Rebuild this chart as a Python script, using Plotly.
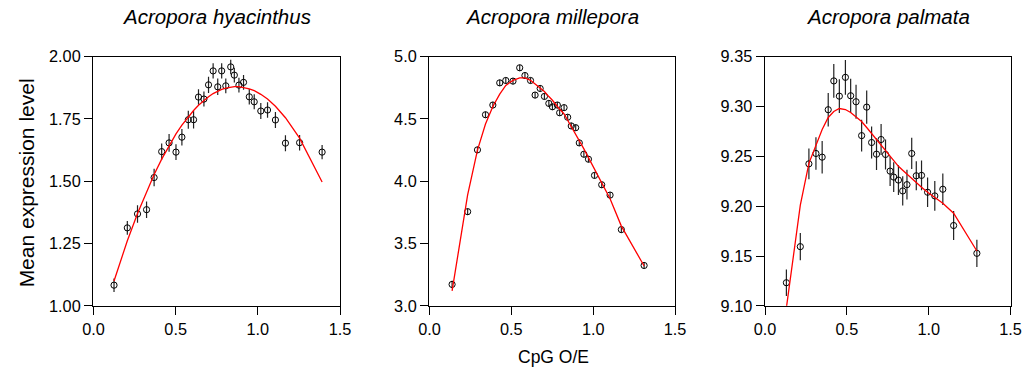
import plotly.graph_objects as go

# ---------------- data ----------------
titles = ["Acropora hyacinthus", "Acropora millepora", "Acropora palmata"]

hy_x = [0.125, 0.206, 0.268, 0.323, 0.369, 0.415, 0.460, 0.502, 0.538, 0.577,
        0.609, 0.639, 0.672, 0.700, 0.728, 0.756, 0.780, 0.805, 0.835, 0.857,
        0.885, 0.913, 0.948, 0.978, 1.018, 1.059, 1.107, 1.168, 1.254, 1.391]
hy_y = [1.083, 1.313, 1.369, 1.386, 1.515, 1.619, 1.654, 1.617, 1.677, 1.747,
        1.747, 1.838, 1.830, 1.887, 1.943, 1.879, 1.943, 1.883, 1.959, 1.926,
        1.886, 1.897, 1.839, 1.819, 1.782, 1.786, 1.746, 1.653, 1.655, 1.617]
hy_err = [0.027, 0.028, 0.035, 0.033, 0.035, 0.033, 0.036, 0.032, 0.033, 0.036,
          0.035, 0.031, 0.030, 0.033, 0.031, 0.033, 0.031, 0.030, 0.029, 0.030,
          0.030, 0.030, 0.031, 0.030, 0.032, 0.031, 0.032, 0.032, 0.031, 0.029]
hy_fit = [1.100, 1.261, 1.371, 1.460, 1.527, 1.589, 1.644, 1.690, 1.725, 1.759,
          1.784, 1.805, 1.825, 1.839, 1.852, 1.862, 1.869, 1.874, 1.878, 1.880,
          1.880, 1.877, 1.871, 1.864, 1.849, 1.830, 1.801, 1.755, 1.673, 1.497]

mi_x = [0.138, 0.233, 0.293, 0.342, 0.387, 0.429, 0.466, 0.510, 0.551, 0.583,
        0.617, 0.645, 0.676, 0.702, 0.729, 0.751, 0.781, 0.795, 0.822, 0.844,
        0.866, 0.893, 0.915, 0.943, 0.971, 1.008, 1.052, 1.103, 1.172, 1.311]
mi_y = [3.172, 3.756, 4.252, 4.534, 4.612, 4.790, 4.809, 4.804, 4.911, 4.849,
        4.809, 4.692, 4.745, 4.681, 4.625, 4.598, 4.612, 4.550, 4.591, 4.514,
        4.444, 4.430, 4.308, 4.217, 4.177, 4.047, 3.972, 3.889, 3.612, 3.324]
mi_err = [0.030, 0.026, 0.025, 0.025, 0.025, 0.025, 0.025, 0.025, 0.025, 0.025,
          0.025, 0.025, 0.025, 0.025, 0.025, 0.025, 0.025, 0.025, 0.025, 0.025,
          0.025, 0.025, 0.025, 0.025, 0.025, 0.025, 0.025, 0.025, 0.025, 0.025]
mi_fit = [3.12, 3.89, 4.25, 4.46, 4.60, 4.70, 4.77, 4.81, 4.83, 4.83,
          4.81, 4.78, 4.75, 4.72, 4.68, 4.65, 4.60, 4.58, 4.54, 4.49,
          4.44, 4.38, 4.32, 4.26, 4.19, 4.10, 3.99, 3.86, 3.64, 3.32]

pa_x = [0.1305, 0.2155, 0.268, 0.311, 0.349, 0.386, 0.420, 0.454, 0.491, 0.523,
        0.556, 0.590, 0.621, 0.651, 0.681, 0.709, 0.736, 0.764, 0.786, 0.815,
        0.841, 0.867, 0.896, 0.924, 0.956, 0.993, 1.037, 1.086, 1.152, 1.294]
pa_y = [9.1232, 9.1594, 9.2425, 9.2529, 9.2492, 9.2968, 9.3257, 9.3104, 9.3293, 9.3108,
        9.3048, 9.2708, 9.2994, 9.2639, 9.2522, 9.2669, 9.2519, 9.2352, 9.2292, 9.2262,
        9.2153, 9.2216, 9.2529, 9.2305, 9.2309, 9.2140, 9.2103, 9.2170, 9.1806, 9.1527]
pa_err = [0.0133, 0.0137, 0.0155, 0.0163, 0.0163, 0.0168, 0.0170, 0.0170, 0.0175, 0.0170,
          0.0170, 0.0160, 0.0166, 0.0160, 0.0160, 0.0155, 0.0150, 0.0150, 0.0150, 0.0150,
          0.0147, 0.0150, 0.0157, 0.0145, 0.0150, 0.0147, 0.0150, 0.0157, 0.0145, 0.0137]
pa_fit = [9.098, 9.201, 9.243, 9.261, 9.277, 9.289, 9.295, 9.298, 9.297, 9.294,
          9.290, 9.285, 9.279, 9.273, 9.267, 9.261, 9.256, 9.250, 9.245, 9.240,
          9.236, 9.232, 9.228, 9.224, 9.219, 9.214, 9.209, 9.203, 9.193, 9.155]

x_ticks = [0.0, 0.5, 1.0, 1.5]
y_ranges = [[1.0, 2.0], [3.0, 5.0], [9.10, 9.35]]
y_ticks = [[1.00, 1.25, 1.50, 1.75, 2.00],
           [3.0, 3.5, 4.0, 4.5, 5.0],
           [9.10, 9.15, 9.20, 9.25, 9.30, 9.35]]
y_formats = [".2f", ".1f", ".2f"]

# ---------------- figure ----------------
W, H = 1029, 370          # reference frame for the paper fractions below
PAGE_W, PAGE_H = 1045, 386  # size of the page area that ends up in the picture
FONT = "Liberation Sans, Arial, Helvetica, sans-serif"
x_dom_px = [(91, 339), (429, 676), (766.5, 1013.5)]
y_dom = [(H - 306.5) / H, (H - 56) / H]

series = [(hy_x, hy_y, hy_err, hy_fit), (mi_x, mi_y, mi_err, mi_fit), (pa_x, pa_y, pa_err, pa_fit)]

fig = go.Figure()
for i, (xs, ys, es, fs) in enumerate(series):
    sfx = "" if i == 0 else str(i + 1)
    fig.add_trace(go.Scatter(
        x=xs, y=ys, mode="markers",
        marker=dict(symbol="circle-open", size=6.2, color="black", line=dict(width=1, color="black")),
        error_y=dict(type="data", array=es, visible=True, color="#222222", thickness=1.2, width=0),
        xaxis="x" + sfx, yaxis="y" + sfx, showlegend=False, cliponaxis=False))
    fig.add_trace(go.Scatter(
        x=xs, y=fs, mode="lines", line=dict(color="red", width=1.3),
        xaxis="x" + sfx, yaxis="y" + sfx, showlegend=False))

layout = dict(
    autosize=True, margin=dict(l=0, r=0, t=0, b=0),
    paper_bgcolor="white", plot_bgcolor="white",
    font=dict(family=FONT, color="black", size=15),
)
axis_common = dict(showline=True, linecolor="black", linewidth=1, mirror=True,
                   ticks="outside", ticklen=8.5, tickwidth=1, tickcolor="black",
                   showgrid=False, zeroline=False, tickfont=dict(size=16.3, family=FONT, color="black"))
for i in range(3):
    sfx = "" if i == 0 else str(i + 1)
    x0, x1 = x_dom_px[i]
    layout["xaxis" + sfx] = dict(axis_common, domain=[x0 / W, x1 / W], range=[0, 1.5],
                                 tickvals=x_ticks, tickformat=".1f", anchor="y" + sfx)
    layout["yaxis" + sfx] = dict(axis_common, domain=list(y_dom), range=y_ranges[i],
                                 tickvals=y_ticks[i], tickformat=y_formats[i], anchor="x" + sfx)
fig.update_layout(**layout)

annotations = []
for i, t in enumerate(titles):
    x0, x1 = x_dom_px[i]
    annotations.append(dict(text="<i>" + t + "</i>", x=(x0 + x1) / 2 / W, y=(H - 16) / H,
                            xref="paper", yref="paper", showarrow=False,
                            xanchor="center", yanchor="middle",
                            font=dict(size=20.5, family=FONT, color="black")))
annotations.append(dict(text="Mean expression level", x=24 / W, y=(H - 182.5) / H,
                        xref="paper", yref="paper", showarrow=False, textangle=-90,
                        xanchor="center", yanchor="middle",
                        font=dict(size=21, family=FONT, color="black")))
annotations.append(dict(text="CpG O/E", x=554 / W, y=(H - 358) / H,
                        xref="paper", yref="paper", showarrow=False,
                        xanchor="center", yanchor="middle",
                        font=dict(size=17.5, family=FONT, color="black")))
fig.update_layout(annotations=annotations)

# figure placed at the page origin (cancel the default 8px body margin)
fig.write_html("out.html",
               default_width="%dpx; margin:-8px 0 -8px -8px" % PAGE_W,
               default_height="%dpx" % PAGE_H)
